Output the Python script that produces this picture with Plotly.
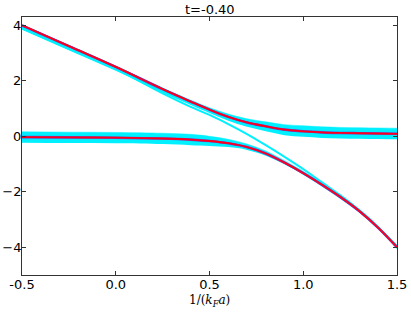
import plotly.graph_objects as go

# x grid, 1/(k_F a)
xs = [-0.5, -0.25, 0.0, 0.25, 0.4, 0.5, 0.6, 0.7, 0.8, 0.9, 1.0, 1.1, 1.2, 1.3, 1.4, 1.5]

# upper branch (red) and its cyan spread
upper = [4.0, 3.25, 2.5, 1.70, 1.25, 0.96, 0.70, 0.50, 0.36, 0.24, 0.18, 0.14, 0.12, 0.11, 0.10, 0.09]
upper_hi = [0.02, 0.03, 0.03, 0.04, 0.05, 0.07, 0.10, 0.13, 0.16, 0.18, 0.2, 0.2, 0.2, 0.2, 0.2, 0.2]
upper_lo = [-0.16, -0.15, -0.14, -0.13, -0.12, -0.12, -0.14, -0.16, -0.18, -0.2, -0.2, -0.2, -0.2, -0.2, -0.2, -0.2]

# lower branch (red) and its cyan spread
lower = [-0.03, -0.04, -0.05, -0.08, -0.12, -0.17, -0.25, -0.39, -0.62, -0.95, -1.33, -1.75, -2.2, -2.7, -3.3, -4.0]
lower_hi = [0.19, 0.19, 0.19, 0.19, 0.19, 0.17, 0.14, 0.11, 0.09, 0.07, 0.07, 0.07, 0.07, 0.07, 0.07, 0.07]
lower_lo = [-0.2, -0.2, -0.2, -0.2, -0.2, -0.18, -0.14, -0.1, -0.08, -0.06, -0.06, -0.06, -0.06, -0.06, -0.06, -0.06]

# thin cyan curve crossing between the branches
thin = [3.9, 3.15, 2.42, 1.55, 1.06, 0.77, 0.44, 0.08, -0.32, -0.74, -1.18, -1.66, -2.14, -2.68, -3.3, -3.97]

xticks = [-0.5, 0.0, 0.5, 1.0, 1.5]
xticktext = ['-0.5', '0.0', '0.5', '1.0', '1.5']
yticks = [-4, -2, 0, 2, 4]
yticktext = ['\u22124', '\u22122', '0', '2', '4']

CYAN = '#00f0ff'

fig = go.Figure()

def band(center, hi, lo):
    top = [c + h for c, h in zip(center, hi)]
    bot = [c + l for c, l in zip(center, lo)]
    fig.add_trace(go.Scatter(x=xs, y=bot, mode='lines', line=dict(width=0, shape='spline'),
                             showlegend=False, hoverinfo='skip'))
    fig.add_trace(go.Scatter(x=xs, y=top, mode='lines', line=dict(width=0.5, color=CYAN, shape='spline'),
                             fill='tonexty', fillcolor=CYAN, showlegend=False, hoverinfo='skip'))

band(upper, upper_hi, upper_lo)
band(lower, lower_hi, lower_lo)

fig.add_trace(go.Scatter(x=xs, y=thin, mode='lines', line=dict(color=CYAN, width=2, shape='spline'),
                         showlegend=False))

for ys in (upper, lower):
    fig.add_trace(go.Scatter(x=xs, y=ys, mode='lines', line=dict(color='#6a40d0', width=2.6, shape='spline'),
                             showlegend=False))
    fig.add_trace(go.Scatter(x=xs, y=ys, mode='lines', line=dict(color='#ff0018', width=1.8, shape='spline'),
                             showlegend=False))

axis = dict(showgrid=False, zeroline=False, showline=True, linecolor='#333', linewidth=1,
            mirror='allticks', ticks='inside', ticklen=4, tickcolor='#333', automargin=False,
            tickfont=dict(size=13, color='black'))

fig.update_xaxes(range=[-0.5, 1.5], tickvals=xticks, ticktext=xticktext, ticklabelstandoff=-3, **axis)
fig.update_yaxes(range=[-5, 4.3], tickvals=yticks, ticktext=yticktext, ticklabelstandoff=-3, **axis)

fig.add_annotation(text='t=-0.40', xref='paper', yref='paper', x=0.5, y=1.0, yanchor='bottom',
                   showarrow=False, font=dict(size=13, color='black'), yshift=-2)
fig.add_annotation(text='1/(<i>k</i><sub><i>F</i></sub><i>a</i>)', xref='paper', yref='paper',
                   x=0.5, y=-0.1, yanchor='middle', showarrow=False,
                   font=dict(size=12, color='black', family='DejaVu Serif'))

fig.update_layout(width=411, height=312, margin=dict(l=22, r=14, t=17, b=37),
                  plot_bgcolor='white', paper_bgcolor='white',
                  font=dict(family='DejaVu Sans', size=13, color='black'))

fig.write_html('out.html', config={'displayModeBar': False},
               post_script="document.body.style.margin='0';")
